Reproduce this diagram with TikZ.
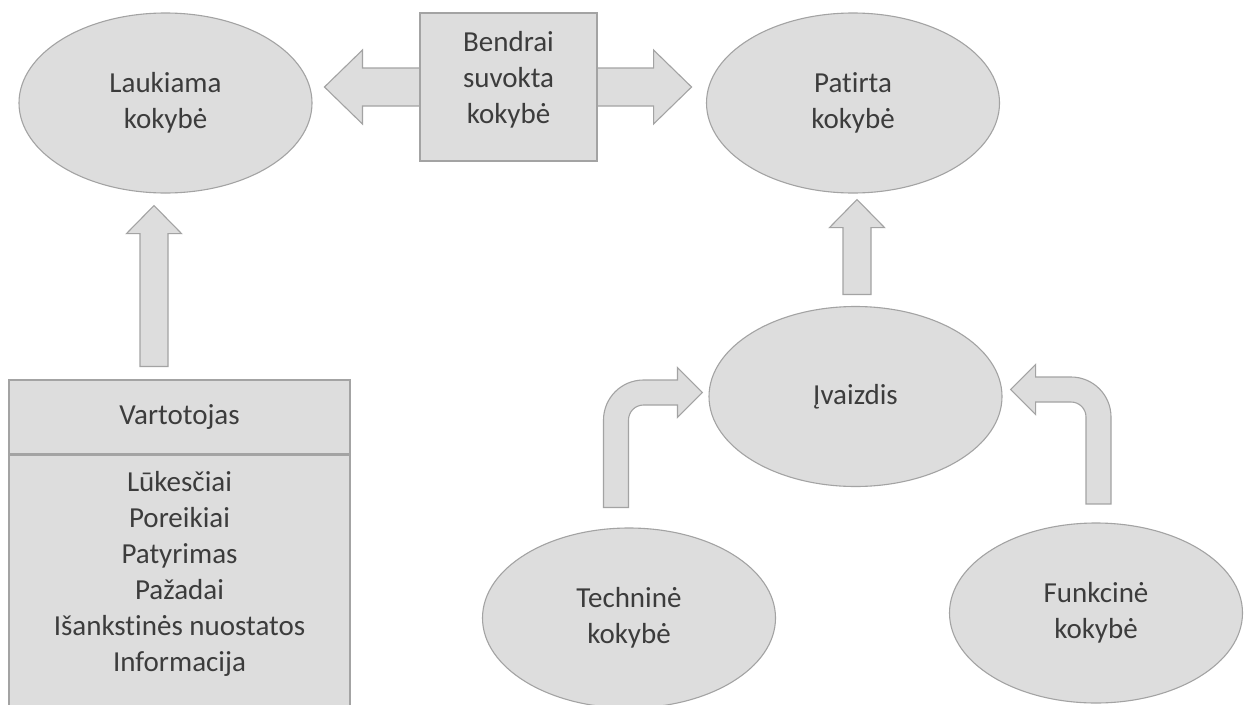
\documentclass[tikz,border=0pt]{standalone}
\usepackage{fontspec}
\setmainfont{Carlito}[Ligatures={NoCommon}]
\usetikzlibrary{calc,backgrounds,shapes.geometric}

\definecolor{shapefill}{HTML}{DDDDDD}
\definecolor{shapeline}{HTML}{A3A3A3}
\definecolor{labeltext}{HTML}{3C3C3C}
\newcommand\labelfont{\fontsize{29}{36}\selectfont}

\tikzset{
  shapebase/.style={draw=shapeline, fill=shapefill, line width=1.1pt},
  oval/.style={shapebase, ellipse, minimum width=293pt, minimum height=180pt,
    inner sep=0pt, align=center, text=labeltext, font=\labelfont},
  boxnode/.style={shapebase, rectangle, inner sep=0pt, align=center,
    text=labeltext, font=\labelfont},
  txt/.style={align=center, text=labeltext, font=\labelfont, inner sep=0pt},
  blockarrow/.style={shapebase, line join=miter},
}

% straight block arrow pointing up: #1 tail centre, #2 tip
\newcommand\upblock[2]{%
  \path[blockarrow] let \p1=(#1), \p2=(#2) in
    (\x1-14pt,\y1) -- (\x1-14pt,\y2-28pt) -- (\x1-27.5pt,\y2-28pt)
    -- (\x1,\y2) -- (\x1+27.5pt,\y2-28pt) -- (\x1+14pt,\y2-28pt)
    -- (\x1+14pt,\y1) -- cycle;}

% block arrow with two heads: #1 left tip, #2 right tip
\newcommand\doubleblock[2]{%
  \path[blockarrow] let \p1=(#1), \p2=(#2) in
    (\x1,\y1) -- (\x1+38pt,\y1+37pt) -- (\x1+38pt,\y1+19pt)
    -- (\x2-38pt,\y1+19pt) -- (\x2-38pt,\y1+37pt) -- (\x2,\y1)
    -- (\x2-38pt,\y1-37pt) -- (\x2-38pt,\y1-19pt) -- (\x1+38pt,\y1-19pt)
    -- (\x1+38pt,\y1-37pt) -- cycle;}

% bent block arrow, up then sideways: #1 tail centre, #2 tip, #3 = 1 (right) or -1 (left)
\newcommand\bentblock[3]{%
  \path[blockarrow] let \p1=(#1), \p2=(#2) in
    ({\x1-(#3)*12.5pt},\y1) -- ({\x1-(#3)*12.5pt},\y2-27.5pt)
    .. controls ({\x1-(#3)*12.5pt},\y2-5.4pt) and ({\x1+(#3)*5.4pt},\y2+12.5pt)
    .. ({\x1+(#3)*27.5pt},\y2+12.5pt)
    -- ({\x2-(#3)*25pt},\y2+12.5pt) -- ({\x2-(#3)*25pt},\y2+25pt) -- (\x2,\y2)
    -- ({\x2-(#3)*25pt},\y2-25pt) -- ({\x2-(#3)*25pt},\y2-12.5pt)
    -- ({\x1+(#3)*27.5pt},\y2-12.5pt)
    .. controls ({\x1+(#3)*19.2pt},\y2-12.5pt) and ({\x1+(#3)*12.5pt},\y2-19.2pt)
    .. ({\x1+(#3)*12.5pt},\y2-27.5pt)
    -- ({\x1+(#3)*12.5pt},\y1) -- cycle;}

\begin{document}
\begin{tikzpicture}[x=1pt, y=-1pt]
  \path[use as bounding box, clip] (0,0) rectangle (1249,704);

  % quality ovals
  \node[oval] (lauk) at (165.5,103) {Laukiama\\kokybė};
  \node[oval] (patirta) at (853,103) {Patirta\\kokybė};
  \node[oval] (ivaizdis) at (855.5,396.5) {Įvaizdis};
  \node[oval] (tech) at (629,618) {Techninė\\kokybė};
  \node[oval] (funk) at (1096,613) {Funkcinė\\kokybė};

  % shared quality box with its two-headed arrow behind it
  \node[boxnode, minimum width=177pt, minimum height=148pt] (bendrai) at (508.5,87) {};
  \node[txt] (bendraitxt) at ($(bendrai.center)+(0,-7)$) {Bendrai\\suvokta\\kokybė};
  \coordinate (dl) at ($(bendrai.west)+(-95,0)$);
  \coordinate (dr) at ($(bendrai.east)+(94,0)$);
  \begin{scope}[on background layer]
    \fill[white] (0,0) rectangle (1249,704);
    \doubleblock{dl}{dr}
  \end{scope}

  % customer box
  \node[boxnode, minimum width=341pt, minimum height=74pt] (vart) at (179.5,417) {Vartotojas};
  \node[boxnode, anchor=north, minimum width=341pt, minimum height=270pt] (vbody) at (vart.south) {};
  \node[txt] (vlist) at (179.5,573.5)
    {Lūkesčiai\\Poreikiai\\Patyrimas\\Pažadai\\Išankstinės nuostatos\\Informacija};

  % straight arrows
  \coordinate (t1) at ($(vart.north)+(-25.5,-13)$);
  \coordinate (h1) at ($(lauk.south)+(-11.5,12)$);
  \upblock{t1}{h1}
  \coordinate (t2) at ($(ivaizdis.north)+(1.5,-11.5)$);
  \coordinate (h2) at ($(patirta.south)+(4,6)$);
  \upblock{t2}{h2}

  % bent arrows into the image oval
  \coordinate (t3) at ($(tech.north)+(-13,-20)$);
  \coordinate (h3) at ($(ivaizdis.west)+(-6,-4)$);
  \bentblock{t3}{h3}{1}
  \coordinate (t4) at ($(funk.north)+(2.5,-18.5)$);
  \coordinate (h4) at ($(ivaizdis.east)+(8,-7)$);
  \bentblock{t4}{h4}{-1}
\end{tikzpicture}
\end{document}
